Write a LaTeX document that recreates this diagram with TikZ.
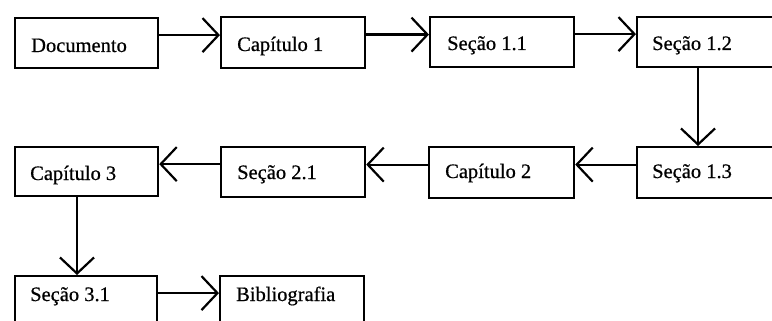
\documentclass[tikz,border=0pt]{standalone}
\usepackage{fontspec}
\setmainfont{Liberation Serif}[FakeBold=0.6]
\usetikzlibrary{arrows.meta}
\begin{document}
\begin{tikzpicture}[x=1pt,y=-1pt,
  box/.style={draw, line width=2.2pt, anchor=north west, inner sep=0pt},
  lbl/.style={anchor=base west, inner sep=0pt, font=\fontsize{20.5}{24}\selectfont},
  flow/.style={line width=2.2pt, -{Straight Barb[length=16pt, width=34pt, line width=2.2pt]}}]
\useasboundingbox (0,0) rectangle (772,321);
\clip (0,0) rectangle (772,321);
\fill[white] (0,0) rectangle (772,321);

% row 1
\node[box, minimum width=143pt, minimum height=50pt] (doc)  at (14,17)  {};
\node[box, minimum width=144pt, minimum height=51pt] (cap1) at (220,16) {};
\node[box, minimum width=144pt, minimum height=50pt] (s11)  at (429,16) {};
\node[box, minimum width=160pt, minimum height=50pt] (s12)  at (636,16) {};
% row 2
\node[box, minimum width=160pt, minimum height=51pt] (s13)  at (636,146) {};
\node[box, minimum width=145pt, minimum height=51pt] (cap2) at (428,146) {};
\node[box, minimum width=144pt, minimum height=50pt] (s21)  at (220,146) {};
\node[box, minimum width=143pt, minimum height=49pt] (cap3) at (14,146)  {};
% row 3
\node[box, minimum width=142pt, minimum height=50pt] (s31)  at (14,275)  {};
\node[box, minimum width=144pt, minimum height=50pt] (bib)  at (219,275) {};

% labels
\node[lbl] at ([shift={(17,35)}]doc.north west)  {Documento};
\node[lbl] at ([shift={(17,35)}]cap1.north west) {Capítulo 1};
\node[lbl] at ([shift={(18,34)}]s11.north west)  {Seção 1.1};
\node[lbl] at ([shift={(16,34)}]s12.north west)  {Seção 1.2};
\node[lbl] at ([shift={(16,32)}]s13.north west)  {Seção 1.3};
\node[lbl] at ([shift={(17,32)}]cap2.north west) {Capítulo 2};
\node[lbl] at ([shift={(17,33)}]s21.north west)  {Seção 2.1};
\node[lbl] at ([shift={(16,34)}]cap3.north west) {Capítulo 3};
\node[lbl] at ([shift={(16,26)}]s31.north west)  {Seção 3.1};
\node[lbl] at ([shift={(17,26)}]bib.north west)  {Bibliografia};

% connectors
\draw[flow] ([yshift=8pt]doc.east)  -- ([yshift=8pt]doc.east -| cap1.west);
\draw[flow] ([yshift=8pt]cap1.east) -- ([yshift=8pt]cap1.east -| s11.west);
\draw[flow] ([yshift=8pt]s11.east)  -- ([yshift=8pt]s11.east -| s12.west);
\draw[flow] (s12.south west -| 698,0) -- (s13.north west -| 698,0);
\draw[flow] ([yshift=8pt]s13.west)  -- ([yshift=8pt]s13.west -| cap2.east);
\draw[flow] ([yshift=8pt]cap2.west) -- ([yshift=8pt]cap2.west -| s21.east);
\draw[flow] ([yshift=8pt]s21.west)  -- ([yshift=8pt]s21.west -| cap3.east);
\draw[flow] (cap3.south west -| 77,0) -- (s31.north west -| 77,0);
\draw[flow] ([yshift=8pt]s31.east)  -- ([yshift=8pt]s31.east -| bib.west);
\end{tikzpicture}
\end{document}
